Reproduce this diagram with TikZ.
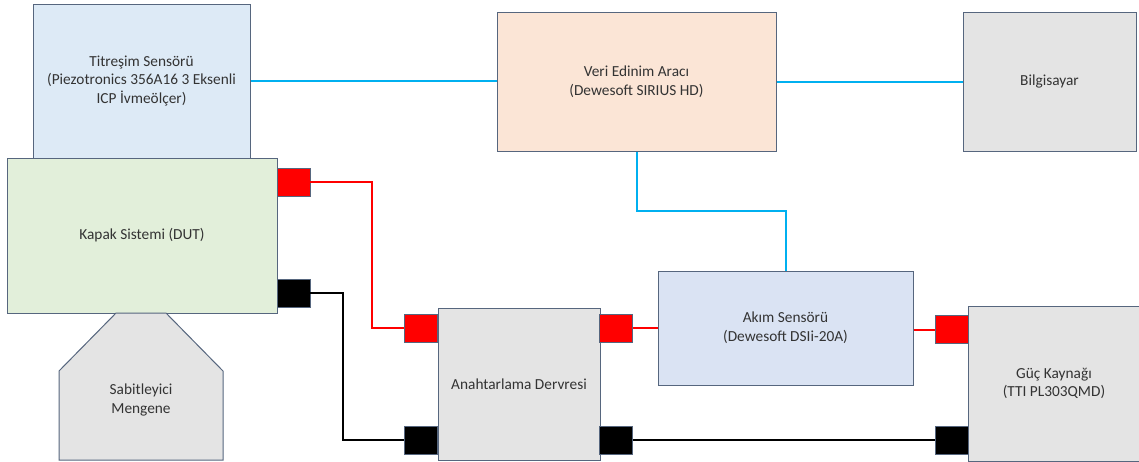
\documentclass[tikz,border=0pt]{standalone}
\usepackage{fontspec}
\setmainfont{Carlito}
\usetikzlibrary{calc}
\definecolor{bord}{HTML}{56667E}
\definecolor{txt}{HTML}{333333}
\definecolor{cblue}{HTML}{DDEAF6}
\definecolor{cgreen}{HTML}{E2EFDA}
\definecolor{cpeach}{HTML}{FBE5D6}
\definecolor{cgray}{HTML}{E4E4E4}
\definecolor{clav}{HTML}{DAE3F3}
\definecolor{wblue}{HTML}{00B0F0}
\tikzset{
  box/.style={draw=bord, line width=0.75pt, rectangle, inner sep=2pt, align=center,
    text=txt, font=\fontsize{11.5}{14}\selectfont},
  plugred/.style={draw=bord, line width=0.6pt, fill=red, minimum width=24.75pt, minimum height=21pt, inner sep=0pt},
  plugblk/.style={draw=bord, line width=0.6pt, fill=black, minimum width=24.75pt, minimum height=21pt, inner sep=0pt},
  wireblue/.style={draw=wblue, line width=1.5pt},
  wirered/.style={draw=red, line width=1.5pt},
  wireblk/.style={draw=black, line width=1.5pt},
}
\begin{document}
\begin{tikzpicture}[x=0.75pt, y=-0.75pt]
\useasboundingbox (0,0) rectangle (1139,461);
\node[box, fill=cblue, minimum width=162.75pt, minimum height=115.5pt] (tit) at (141.5,81)
  {Titreşim Sensörü\\(Piezotronics 356A16 3 Eksenli\\ICP İvmeölçer)};
\node[box, fill=cgreen, minimum width=202.5pt, minimum height=116.25pt] (kapak) at (142,235.5)
  {Kapak Sistemi (DUT)};
\node[box, fill=cpeach, minimum width=209.25pt, minimum height=104.25pt] (veri) at (636.5,81.5)
  {Veri Edinim Aracı\\(Dewesoft SIRIUS HD)};
\node[box, fill=cgray, minimum width=129.75pt, minimum height=104.25pt] (bilg) at (1049.5,81.5)
  {Bilgisayar};
\node[box, fill=clav, minimum width=191.25pt, minimum height=85.5pt] (akim) at (785.5,328)
  {Akım Sensörü\\(Dewesoft DSIi-20A)};
\node[box, fill=cgray, minimum width=121.5pt, minimum height=114pt] (anah) at (519,384)
  {Anahtarlama Dervresi};
\node[box, fill=cgray, minimum width=129pt, minimum height=116.25pt] (guc) at (1054,383.5)
  {Güç Kaynağı\\(TTI PL303QMD)};
% clamp
\draw[draw=bord, line width=0.75pt, fill=cgray] (116,313) -- (166,313) -- (223,371) -- (223,460) -- (59,460) -- (59,371) -- cycle;
\node[text=txt, font=\fontsize{11.5}{14}\selectfont, align=center] (mengene) at (141,400) {Sabitleyici\\Mengene};
% plugs
\node[plugred] (kred) at (293.5,182) {};
\node[plugblk] (kblk) at (293.5,293) {};
\node[plugred] (ared1) at (421,328) {};
\node[plugred] (ared2) at (616,328) {};
\node[plugblk] (ablk1) at (421,440) {};
\node[plugblk] (ablk2) at (616,440) {};
\node[plugred] (gred) at (951.5,329.5) {};
\node[plugblk] (gblk) at (951.5,440.5) {};
% coordinates for bends
\coordinate (rbend) at (372,0);
\coordinate (kbend) at (343,0);
\coordinate (bbend) at (0,211);
% wires
\draw[wireblue] (tit.east) -- (tit.east -| veri.west);
\draw[wireblue] (veri.east) -- (veri.east -| bilg.west);
\draw[wireblue] (veri.south) |- (bbend -| akim.north) -- (akim.north);
\draw[wirered] (kred.east) -| (rbend |- ared1.west) -- (ared1.west);
\draw[wireblk] (kblk.east) -| (kbend |- ablk1.west) -- (ablk1.west);
\draw[wirered] (ared2.east) -- (ared2.east -| akim.west);
\draw[wirered] (akim.east |- gred.west) -- (gred.west);
\draw[wireblk] (ablk2.east) -- (ablk2.east -| gblk.west);
\end{tikzpicture}
\end{document}
